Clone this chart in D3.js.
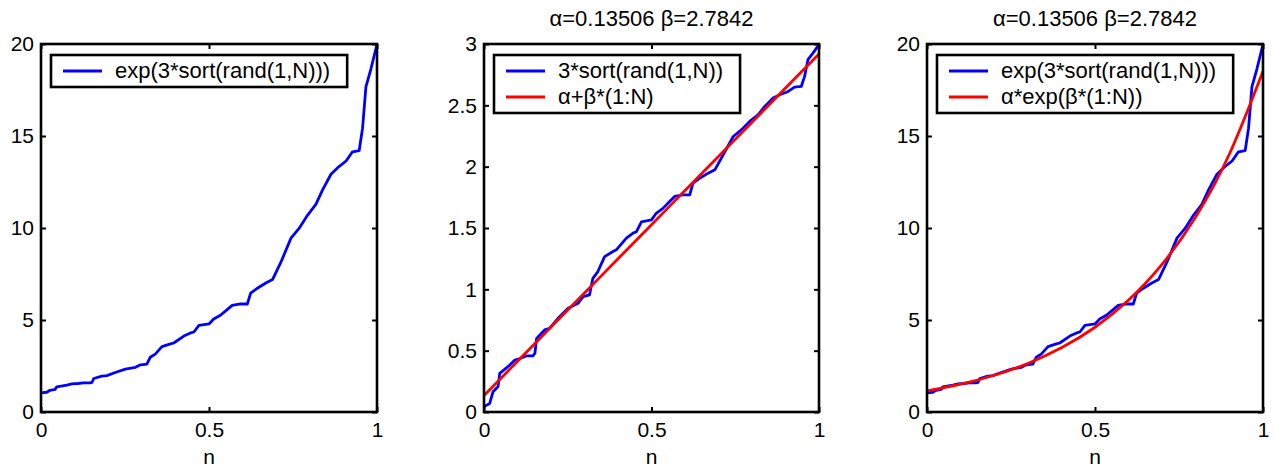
<!DOCTYPE html>
<html>
<head>
<meta charset="utf-8">
<script src="https://cdn.jsdelivr.net/npm/d3@7"></script>
<style>
  body { margin: 0; background: #fff; }
  svg { font-family: "Liberation Sans", Arial, sans-serif; }
  .tick line { stroke: #000; stroke-width: 2; }
  .tick text { fill: #000; font-size: 21px; }
</style>
</head>
<body>
<svg id="chart" width="1274" height="468"></svg>
<script>
// 3*sort(rand(1,N))
const sortN = [0, 0.017, 0.027, 0.042, 0.047, 0.077, 0.092, 0.11, 0.126, 0.146, 0.152, 0.157,
  0.181, 0.196, 0.221, 0.251, 0.281, 0.296, 0.315, 0.325, 0.34, 0.36, 0.385, 0.395, 0.425,
  0.445, 0.455, 0.47, 0.5, 0.514, 0.534, 0.554, 0.569, 0.594, 0.614, 0.624, 0.644, 0.669,
  0.689, 0.714, 0.744, 0.768, 0.793, 0.818, 0.838, 0.863, 0.883, 0.908, 0.927, 0.947, 0.957,
  0.967, 0.982, 1.0];
const sortVal = [0.044, 0.07, 0.166, 0.207, 0.315, 0.383, 0.424, 0.438, 0.457, 0.457, 0.479, 0.60,
  0.669, 0.683, 0.764, 0.846, 0.887, 0.941, 0.955, 1.09, 1.145, 1.267, 1.308, 1.322, 1.417,
  1.458, 1.47, 1.55, 1.566, 1.62, 1.66, 1.716, 1.757, 1.77, 1.77, 1.866, 1.906, 1.947,
  1.974, 2.097, 2.246, 2.30, 2.369, 2.423, 2.491, 2.559, 2.586, 2.613, 2.649, 2.654, 2.736,
  2.872, 2.926, 2.995];

// fitted curves (alpha=0.13506, beta=2.7842)
const fitN = [0, 0.1, 0.2, 0.3, 0.4, 0.5, 0.6, 0.7, 0.8, 0.9, 1];
const linFit = [0.135, 0.414, 0.692, 0.970, 1.249, 1.527, 1.806, 2.084, 2.362, 2.641, 2.919];
const expFit = [1.145, 1.512, 1.997, 2.639, 3.486, 4.605, 6.083, 8.035, 10.61, 14.02, 18.52];

const xTicks = [0, 0.5, 1];
const yTicksExp = [0, 5, 10, 15, 20];
const yTicksLin = [0, 0.5, 1, 1.5, 2, 2.5, 3];
const fitTitle = 'α=0.13506 β=2.7842';

const svg = d3.select('#chart');

function drawPanel(cfg) {
  const w = cfg.right - cfg.left, h = 412 - 44;
  const g = svg.append('g').attr('transform', `translate(${cfg.left},44)`);

  const x = d3.scaleLinear().domain([0, 1]).range([0, w]);
  const y = d3.scaleLinear().domain(cfg.yDomain).range([h, 0]);

  // axes, ticks pointing inwards on all four sides
  g.append('g').attr('transform', `translate(0,${h})`)
    .call(d3.axisBottom(x).tickValues(xTicks).tickSize(-5).tickPadding(10).tickFormat(d3.format('')));
  g.append('g')
    .call(d3.axisLeft(y).tickValues(cfg.yTicks).tickSize(-5).tickPadding(7).tickFormat(d3.format('')));
  g.append('g')
    .call(d3.axisTop(x).tickValues(xTicks).tickSize(-5).tickFormat(''));
  g.append('g').attr('transform', `translate(${w},0)`)
    .call(d3.axisRight(y).tickValues(cfg.yTicks).tickSize(-5).tickFormat(''));
  g.selectAll('.domain').remove();

  const line = d3.line().x(d => x(d[0])).y(d => y(d[1]));
  cfg.series.forEach(s => {
    g.append('path')
      .datum(s.data)
      .attr('fill', 'none')
      .attr('stroke', s.color)
      .attr('stroke-width', 2.8)
      .attr('stroke-linejoin', 'round')
      .attr('d', line.curve(s.smooth ? d3.curveNatural : d3.curveLinear));
  });

  // axes box
  g.append('rect')
    .attr('width', w).attr('height', h)
    .attr('fill', 'none').attr('stroke', '#000').attr('stroke-width', 2.6);

  g.append('text')
    .attr('x', w / 2).attr('y', h + 52)
    .attr('text-anchor', 'middle').attr('font-size', 21)
    .text('n');

  if (cfg.title) {
    g.append('text')
      .attr('x', w / 2).attr('y', -18)
      .attr('text-anchor', 'middle').attr('font-size', 22)
      .text(cfg.title);
  }

  // legend
  const leg = g.append('g').attr('transform', 'translate(10,11)');
  const box = leg.append('rect')
    .attr('fill', '#fff').attr('stroke', '#000').attr('stroke-width', 2.6);
  let maxLen = 0;
  cfg.series.forEach((s, i) => {
    leg.append('line')
      .attr('x1', 12).attr('x2', 51)
      .attr('y1', 16 + i * 26).attr('y2', 16 + i * 26)
      .attr('stroke', s.color).attr('stroke-width', 2.8);
    const t = leg.append('text')
      .attr('x', 64).attr('y', 23 + i * 26)
      .attr('font-size', 22)
      .text(s.label);
    maxLen = Math.max(maxLen, t.node().getComputedTextLength());
  });
  box.attr('width', 64 + maxLen + 17).attr('height', 6 + 26 * cfg.series.length);
}

const sortData = sortN.map((n, i) => [n, sortVal[i]]);
const expData = sortN.map((n, i) => [n, Math.exp(sortVal[i])]);

drawPanel({
  left: 41, right: 377, yDomain: [0, 20], yTicks: yTicksExp,
  series: [{ data: expData, color: '#0000ff', label: 'exp(3*sort(rand(1,N)))' }]
});

drawPanel({
  left: 484, right: 819, yDomain: [0, 3], yTicks: yTicksLin, title: fitTitle,
  series: [
    { data: sortData, color: '#0000ff', label: '3*sort(rand(1,N))' },
    { data: fitN.map((n, i) => [n, linFit[i]]), color: '#ff0000', label: 'α+β*(1:N)', smooth: true }
  ]
});

drawPanel({
  left: 927, right: 1263, yDomain: [0, 20], yTicks: yTicksExp, title: fitTitle,
  series: [
    { data: expData, color: '#0000ff', label: 'exp(3*sort(rand(1,N)))' },
    { data: fitN.map((n, i) => [n, expFit[i]]), color: '#ff0000', label: 'α*exp(β*(1:N))', smooth: true }
  ]
});
</script>
</body>
</html>
